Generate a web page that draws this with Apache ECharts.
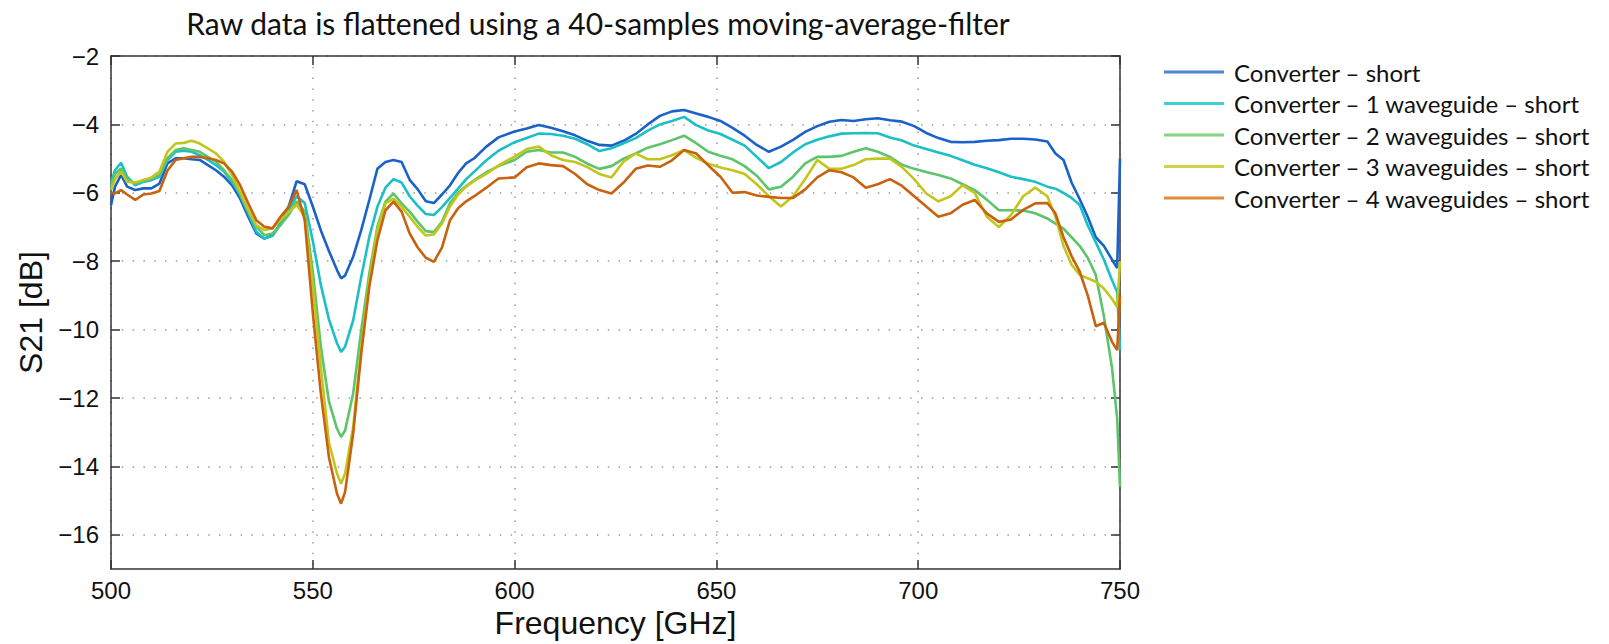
<!DOCTYPE html>
<html>
<head>
<meta charset="utf-8">
<script src="https://cdn.jsdelivr.net/npm/echarts@6/dist/echarts.min.js"></script>
<style>
html,body{margin:0;padding:0;background:#fff;}
#chart{width:1609px;height:644px;}
</style>
</head>
<body>
<div id="chart"></div>
<script>
const titleText = 'Raw data is flattened using a 40-samples moving-average-filter';
const xName = 'Frequency [GHz]';
const yName = 'S21 [dB]';
const seriesNames = [
  'Converter – short',
  'Converter – 1 waveguide – short',
  'Converter – 2 waveguides – short',
  'Converter – 3 waveguides – short',
  'Converter – 4 waveguides – short'
];
const lineColors = ['#1a62c8', '#1cbfc6', '#5cc46a', '#c2c61c', '#c8620f'];
const legendColors = ['#4b86d4', '#3fcdd6', '#84d484', '#d2d24a', '#e4883c'];
const yTickValues = [-16, -14, -12, -10, -8, -6, -4, -2];

const freq = [500, 501, 502.5, 504, 506, 508, 510, 512, 514, 516,
  518, 520, 522, 524, 526, 528, 530, 532, 534, 536,
  538, 540, 542, 544, 546, 548, 550, 552, 554, 556,
  557, 558, 560, 562, 564, 566, 568, 570, 572, 574,
  576, 578, 580, 582, 584, 586, 588, 590, 593, 596,
  600, 603, 606, 609, 612, 615, 618, 621, 624, 627,
  630, 633, 636, 639, 642, 645, 648, 651, 654, 657,
  660, 663, 666, 669, 672, 675, 678, 681, 684, 687,
  690, 693, 696, 699, 702, 705, 708, 711, 714, 717,
  720, 723, 726, 729, 732, 734, 736, 738, 740, 742,
  744, 746, 748, 749.3, 750];

const convShort = [-6.36, -5.82, -5.48, -5.82, -5.92, -5.87, -5.87, -5.73, -5.14, -4.99,
  -4.99, -5.02, -5.04, -5.19, -5.34, -5.53, -5.78, -6.17, -6.70, -7.19,
  -7.34, -7.24, -6.90, -6.41, -5.66, -5.75, -6.40, -7.10, -7.70, -8.26,
  -8.50, -8.42, -7.87, -7.09, -6.21, -5.30, -5.10, -5.04, -5.10, -5.62,
  -5.90, -6.25, -6.30, -6.05, -5.78, -5.42, -5.14, -4.99, -4.65, -4.38,
  -4.21, -4.12, -4.02, -4.10, -4.20, -4.32, -4.48, -4.60, -4.62, -4.48,
  -4.28, -4.00, -3.75, -3.62, -3.58, -3.68, -3.78, -3.90, -4.10, -4.33,
  -4.60, -4.80, -4.65, -4.45, -4.22, -4.05, -3.92, -3.87, -3.90, -3.85,
  -3.82, -3.88, -3.92, -4.05, -4.25, -4.40, -4.51, -4.52, -4.51, -4.48,
  -4.46, -4.42, -4.42, -4.44, -4.50, -4.85, -5.04, -5.70, -6.18, -6.70,
  -7.30, -7.55, -7.95, -8.20, -5.00];

const conv1wg = [-5.73, -5.34, -5.12, -5.53, -5.78, -5.68, -5.63, -5.53, -5.04, -4.80,
  -4.77, -4.80, -4.90, -5.04, -5.19, -5.38, -5.68, -6.07, -6.60, -7.14,
  -7.34, -7.26, -6.92, -6.51, -6.10, -6.30, -7.40, -8.70, -9.70, -10.40,
  -10.65, -10.50, -9.73, -8.46, -7.29, -6.41, -5.85, -5.60, -5.70, -6.10,
  -6.38, -6.62, -6.65, -6.42, -6.15, -5.88, -5.60, -5.38, -5.05, -4.77,
  -4.52, -4.40, -4.27, -4.28, -4.33, -4.42, -4.58, -4.78, -4.70, -4.55,
  -4.40, -4.18, -4.00, -3.90, -3.78, -4.02, -4.18, -4.28, -4.45, -4.62,
  -4.95, -5.28, -5.10, -4.82, -4.58, -4.45, -4.35, -4.27, -4.26, -4.25,
  -4.26, -4.38, -4.47, -4.62, -4.72, -4.82, -4.92, -5.05, -5.18, -5.28,
  -5.40, -5.53, -5.60, -5.68, -5.82, -5.88, -6.00, -6.15, -6.35, -6.95,
  -7.45, -7.95, -8.55, -8.90, -10.60];

const conv2wg = [-5.82, -5.45, -5.29, -5.60, -5.73, -5.63, -5.58, -5.48, -4.99, -4.75,
  -4.70, -4.75, -4.80, -4.95, -5.09, -5.34, -5.63, -6.02, -6.51, -6.99,
  -7.24, -7.19, -6.95, -6.65, -6.25, -6.55, -8.30, -10.50, -12.10, -12.90,
  -13.14, -12.95, -11.87, -10.02, -8.36, -6.99, -6.26, -6.02, -6.31, -6.55,
  -6.85, -7.12, -7.15, -6.85, -6.30, -6.00, -5.80, -5.63, -5.40, -5.22,
  -5.04, -4.80, -4.75, -4.82, -4.82, -4.95, -5.15, -5.30, -5.22, -5.00,
  -4.85, -4.68, -4.58, -4.46, -4.33, -4.55, -4.80, -4.92, -5.02, -5.22,
  -5.50, -5.90, -5.82, -5.53, -5.14, -4.95, -4.95, -4.92, -4.80, -4.70,
  -4.80, -4.95, -5.18, -5.30, -5.39, -5.48, -5.58, -5.75, -5.92, -6.20,
  -6.51, -6.51, -6.52, -6.60, -6.75, -6.90, -7.05, -7.30, -7.55, -7.90,
  -8.40, -9.60, -11.10, -12.60, -14.60];

const conv3wg = [-5.92, -5.60, -5.38, -5.68, -5.70, -5.63, -5.55, -5.38, -4.80, -4.56,
  -4.54, -4.48, -4.56, -4.70, -4.85, -5.09, -5.48, -5.97, -6.51, -6.95,
  -7.09, -7.04, -6.80, -6.56, -6.36, -6.70, -8.70, -11.10, -13.30, -14.21,
  -14.51, -14.21, -12.85, -10.50, -8.56, -7.09, -6.31, -6.17, -6.41, -6.70,
  -7.00, -7.25, -7.22, -6.90, -6.40, -6.05, -5.82, -5.65, -5.45, -5.20,
  -4.94, -4.72, -4.65, -4.90, -5.04, -5.10, -5.25, -5.45, -5.55, -5.09,
  -4.85, -5.02, -5.02, -4.90, -4.75, -4.98, -5.15, -5.26, -5.34, -5.45,
  -5.75, -6.10, -6.40, -6.10, -5.60, -5.04, -5.30, -5.30, -5.19, -5.02,
  -5.00, -5.00, -5.25, -5.60, -6.02, -6.25, -6.10, -5.78, -6.00, -6.70,
  -7.00, -6.65, -6.10, -5.85, -6.10, -6.70, -7.55, -8.10, -8.40, -8.50,
  -8.60, -8.80, -9.10, -9.34, -8.00];

const conv4wg = [-6.00, -6.02, -5.92, -6.05, -6.21, -6.05, -6.02, -5.95, -5.35, -5.04,
  -4.99, -4.95, -4.95, -4.99, -5.04, -5.14, -5.38, -5.78, -6.31, -6.80,
  -6.99, -7.04, -6.70, -6.41, -5.92, -6.80, -9.50, -11.87, -13.73, -14.80,
  -15.09, -14.75, -13.04, -10.70, -8.75, -7.39, -6.51, -6.26, -6.55, -7.19,
  -7.60, -7.90, -8.02, -7.60, -6.80, -6.45, -6.25, -6.10, -5.85, -5.58,
  -5.55, -5.25, -5.14, -5.19, -5.22, -5.45, -5.75, -5.92, -6.02, -5.70,
  -5.30, -5.20, -5.24, -5.05, -4.75, -4.85, -5.20, -5.53, -6.00, -5.98,
  -6.08, -6.12, -6.15, -6.15, -5.90, -5.55, -5.34, -5.40, -5.55, -5.85,
  -5.75, -5.60, -5.80, -6.10, -6.40, -6.70, -6.60, -6.35, -6.21, -6.60,
  -6.85, -6.78, -6.50, -6.31, -6.30, -6.60, -7.30, -7.85, -8.30, -9.00,
  -9.90, -9.80, -10.35, -10.60, -9.00];

const allValues = [convShort, conv1wg, conv2wg, conv3wg, conv4wg];

const minusFmt = v => (v < 0 ? '\u2212' + Math.abs(v) : String(v));
const axisColor = '#333';
const tickFont = {fontFamily: 'Liberation Sans', fontSize: 24, color: '#111'};

const chart = echarts.init(document.getElementById('chart'), null, {renderer: 'svg'});
chart.setOption({
  animation: false,
  backgroundColor: '#fff',
  graphic: [{
    type: 'text', x: 598, y: 23,
    style: {text: titleText, fontFamily: 'Lato', fontSize: 30, fill: '#111',
            textAlign: 'center', textVerticalAlign: 'middle'}
  }],
  grid: {left: 111, right: 489, top: 56, bottom: 75, containLabel: false, outerBoundsMode: 'none'},
  legend: {
    orient: 'vertical', left: 1159, top: 55,
    itemWidth: 60, itemHeight: 3, icon: 'rect', itemGap: 7.5,
    textStyle: {fontFamily: 'Lato', fontSize: 24, color: '#111', lineHeight: 24, padding: [0, 0, 0, 5]},
    data: seriesNames.map((n, i) => ({name: n, itemStyle: {color: legendColors[i]}}))
  },
  xAxis: [{
    type: 'value', min: 500, max: 750, interval: 50, position: 'bottom',
    name: xName, nameLocation: 'middle', nameGap: 36,
    nameTextStyle: {fontFamily: 'Liberation Sans', fontSize: 32, color: '#111'},
    axisLine: {show: true, lineStyle: {color: axisColor, width: 1.5}},
    axisTick: {show: true, inside: true, length: 9, lineStyle: {color: axisColor, width: 1.5}},
    axisLabel: Object.assign({margin: 9}, tickFont),
    splitLine: {show: true, lineStyle: {color: '#9a9a9a', width: 1.5, type: [1.5, 9.3]}}
  }, {
    type: 'value', min: 500, max: 750, interval: 50, position: 'top',
    axisLine: {show: true, onZero: false, lineStyle: {color: axisColor, width: 1.5}},
    axisTick: {show: true, inside: true, length: 9, lineStyle: {color: axisColor, width: 1.5}},
    axisLabel: {show: false}, splitLine: {show: false}
  }],
  yAxis: [{
    type: 'value', min: -17, max: -2, position: 'left',
    name: yName, nameLocation: 'middle', nameGap: 64, nameRotate: 90,
    nameTextStyle: {fontFamily: 'Liberation Sans', fontSize: 32, color: '#111'},
    axisLine: {show: true, onZero: false, lineStyle: {color: axisColor, width: 1.5}},
    axisTick: {show: true, inside: true, length: 9, customValues: yTickValues, lineStyle: {color: axisColor, width: 1.5}},
    axisLabel: Object.assign({margin: 12, customValues: yTickValues, formatter: minusFmt}, tickFont),
    splitLine: {show: true, lineStyle: {color: '#9a9a9a', width: 1.5, type: [1.5, 9.3]}}
  }, {
    type: 'value', min: -17, max: -2, position: 'right',
    axisLine: {show: true, onZero: false, lineStyle: {color: axisColor, width: 1.5}},
    axisTick: {show: true, inside: true, length: 9, customValues: yTickValues, lineStyle: {color: axisColor, width: 1.5}},
    axisLabel: {show: false, customValues: yTickValues}, splitLine: {show: false}
  }],
  series: seriesNames.map((name, i) => ({
    name: name, type: 'line', xAxisIndex: 0, yAxisIndex: 0,
    showSymbol: false, symbol: 'none',
    lineStyle: {color: lineColors[i], width: 2.6},
    itemStyle: {color: lineColors[i]},
    data: freq.map((f, k) => [f, allValues[i][k]])
  }))
});
</script>
</body>
</html>
